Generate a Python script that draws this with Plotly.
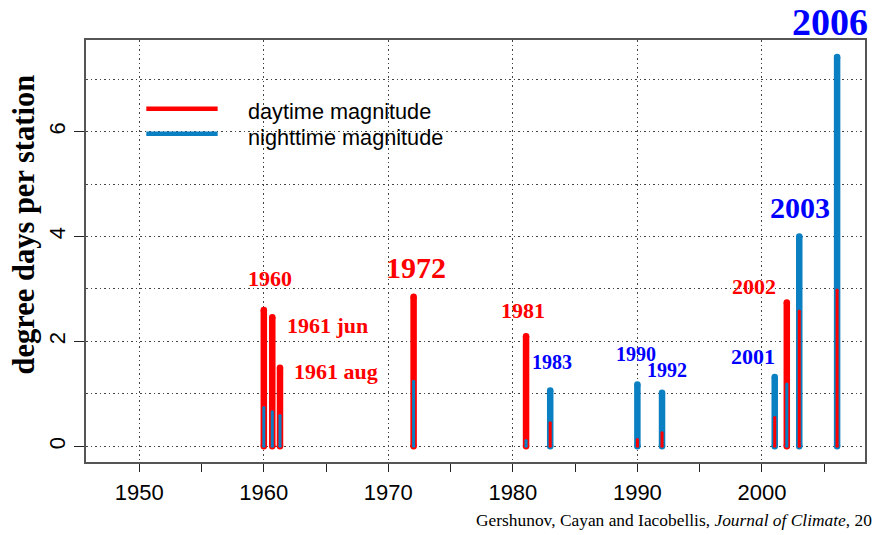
import plotly.graph_objects as go

# ---------------- data ----------------
event_labels = ["1960", "1961 jun", "1961 aug", "1972", "1981", "1983",
                "1990", "1992", "2001", "2002", "2003", "2006"]
event_x = [1960.0, 1960.68, 1961.3, 1972.03, 1981.06, 1983.0,
           1990.0, 1991.98, 2001.03, 2002.0, 2003.0, 2006.04]
day_mag = [2.60, 2.46, 1.50, 2.85, 2.10, 0.45, 0.13, 0.26, 0.55, 2.74, 2.58, 2.98]
night_mag = [0.74, 0.66, 0.59, 1.24, 0.11, 1.065, 1.18, 1.02, 1.32, 1.19, 4.00, 7.42]

x_tick_vals = [1950, 1960, 1970, 1980, 1990, 2000]
y_tick_vals = [0, 2, 4, 6]

# ---------------- styles ----------------
RED = "#FF0000"
BLUE = "#0A7FC2"
LBL_RED = "#FF0000"
LBL_BLUE = "#0000FF"
THICK = 6.5
THIN = 3.0

# label placement (x in years, y in data units; last one in paper y) and font sizes
label_style = {
    "1960": (1960.5, 3.2, 22),
    "1961 jun": (1965.08, 2.31, 22),
    "1961 aug": (1965.83, 1.43, 22),
    "1972": (1972.23, 3.40, 30),
    "1981": (1980.82, 2.59, 22),
    "1983": (1983.13, 1.60, 20),
    "1990": (1989.90, 1.77, 20),
    "1992": (1992.37, 1.45, 20),
    "2001": (1999.30, 1.71, 22),
    "2002": (1999.38, 3.04, 22),
    "2003": (2003.08, 4.56, 30),
    "2006": (2005.45, 1.042, 38),
}


def seg_lists(xs, vals):
    X, Y = [], []
    for x, v in zip(xs, vals):
        X += [x, x, None]
        Y += [0, v, None]
    return X, Y


thick_red_x, thick_red_v = [], []
thick_blue_x, thick_blue_v = [], []
thin_red_x, thin_red_v = [], []
thin_blue_x, thin_blue_v = [], []
for x, d, n in zip(event_x, day_mag, night_mag):
    if d >= n:
        thick_red_x.append(x); thick_red_v.append(d)
        thin_blue_x.append(x); thin_blue_v.append(n)
    else:
        thick_blue_x.append(x); thick_blue_v.append(n)
        thin_red_x.append(x); thin_red_v.append(d)

fig = go.Figure()


def add_bars(xs, vals, color, width, name):
    X, Y = seg_lists(xs, vals)
    fig.add_trace(go.Scatter(
        x=X, y=Y, mode="lines+markers", name=name, showlegend=False,
        line=dict(color=color, width=width),
        marker=dict(color=color, size=width, line=dict(width=0)),
        hoverinfo="skip"))


add_bars(thick_red_x, thick_red_v, RED, THICK, "daytime magnitude")
add_bars(thick_blue_x, thick_blue_v, BLUE, THICK, "nighttime magnitude")
add_bars(thin_red_x, thin_red_v, RED, THIN, "daytime magnitude")
add_bars(thin_blue_x, thin_blue_v, BLUE, THIN, "nighttime magnitude")

annotations = []
for lab, d, n in zip(event_labels, day_mag, night_mag):
    lx, ly, fs = label_style[lab]
    col = LBL_RED if d >= n else LBL_BLUE
    annotations.append(dict(
        x=lx, y=ly, xref="x", yref="paper" if lab == "2006" else "y",
        text="<b>%s</b>" % lab, showarrow=False, xanchor="center", yanchor="middle",
        font=dict(family="Liberation Serif", size=fs, color=col)))

# y-axis title
annotations.append(dict(
    x=-0.080, y=0.562, xref="paper", yref="paper", text="<b>degree days per station</b>",
    textangle=-90, showarrow=False, xanchor="center", yanchor="middle",
    font=dict(family="Liberation Serif", size=30.5, color="black")))

# legend text
annotations.append(dict(x=0.206, y=0.830, xref="paper", yref="paper", text="daytime magnitude",
                        showarrow=False, xanchor="left", yanchor="middle",
                        font=dict(family="Liberation Sans", size=21.7, color="black")))
annotations.append(dict(x=0.206, y=0.769, xref="paper", yref="paper", text="nighttime magnitude",
                        showarrow=False, xanchor="left", yanchor="middle",
                        font=dict(family="Liberation Sans", size=21.7, color="black")))

# caption (ends at the page edge, as in the reference)
annotations.append(dict(
    x=0.498, y=-0.138, xref="paper", yref="paper",
    text="Gershunov, Cayan and Iacobellis, <i>Journal of Climate</i>, 20",
    showarrow=False, xanchor="left", yanchor="middle",
    font=dict(family="Liberation Serif", size=17.4, color="black")))

shapes = [
    dict(type="line", xref="paper", yref="paper", x0=0.0774, x1=0.169, y0=0.837, y1=0.837,
         line=dict(color=RED, width=4.5)),
    dict(type="line", xref="paper", yref="paper", x0=0.0774, x1=0.169, y0=0.778, y1=0.778,
         line=dict(color=BLUE, width=4.5)),
]

GRID = "1.5px,3px"
fig.update_layout(
    width=880, height=535,
    margin=dict(l=86, r=15, t=40, b=73, autoexpand=False),
    paper_bgcolor="white", plot_bgcolor="white",
    showlegend=False,
    annotations=annotations, shapes=shapes,
    xaxis=dict(
        range=[1945.72, 2008.28], tickmode="array", tickvals=x_tick_vals,
        automargin=False,
        ticks="outside", ticklen=8, tickcolor="#222", tickwidth=1.2,
        tickfont=dict(family="Liberation Sans", size=22, color="black"),
        ticklabelstandoff=2,
        showgrid=True, gridcolor="#444", gridwidth=1, griddash=GRID,
        minor=dict(dtick=5, tick0=1950, ticks="outside", ticklen=8, tickcolor="#222",
                   tickwidth=1.2, showgrid=False),
        showline=True, mirror=True, linecolor="#555", linewidth=1.5,
        zeroline=False),
    yaxis=dict(
        range=[-0.298, 7.745], tickmode="array", tickvals=y_tick_vals,
        automargin=False,
        ticks="outside", ticklen=10, tickcolor="#222", tickwidth=1.2,
        tickangle=-90,
        tickfont=dict(family="Liberation Sans", size=22, color="black"),
        showgrid=True, gridcolor="#444", gridwidth=1, griddash=GRID,
        minor=dict(dtick=1, tick0=0, ticks="", showgrid=True, gridcolor="#444",
                   gridwidth=1, griddash=GRID),
        showline=True, mirror=True, linecolor="#555", linewidth=1.5,
        zeroline=False),
)

fig.write_html("out.html",
               config={"displayModeBar": False},
               post_script="document.body.style.margin='0px';"
                           "document.body.style.overflow='hidden';")
